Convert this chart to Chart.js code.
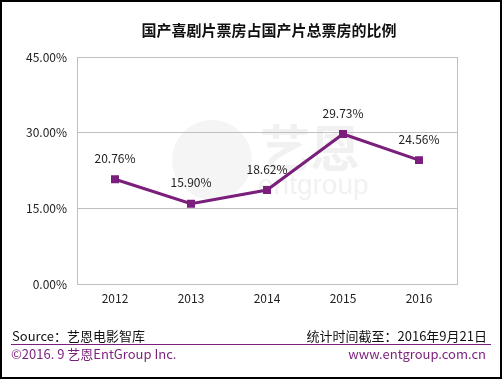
<!DOCTYPE html>
<html><head><meta charset="utf-8">
<script src="https://cdn.jsdelivr.net/npm/chart.js@4"></script>
<style>html,body{margin:0;padding:0;background:#fff}#wrap{width:502px;height:380px;position:relative}</style>
</head><body><div id="wrap"><canvas id="c" width="502" height="380"></canvas></div>
<script>
const categories = ['2012','2013','2014','2015','2016'];
const shareValues = [20.76, 15.90, 18.62, 29.73, 24.56];
const yTicks = [0, 15, 30, 45];
const titleText = '国产喜剧片票房占国产片总票房的比例';
const sourceText = 'Source：艺恩电影智库';
const dateText = '统计时间截至：2016年9月21日';
const copyText = '©2016. 9 艺恩EntGroup Inc.';
const siteText = 'www.entgroup.com.cn';

const FONT = '"Noto Sans CJK SC", "Liberation Sans", sans-serif';
const PURPLE = '#7a1f7c';

const decor = {
  id: 'decor',
  beforeDraw(chart) {
    const ctx = chart.ctx;
    ctx.save();
    ctx.fillStyle = '#fff';
    ctx.fillRect(0, 0, chart.width, chart.height);
    // faint watermark
    ctx.fillStyle = 'rgba(200,200,200,0.18)';
    ctx.beginPath();
    ctx.arc(212, 160, 40, 0, Math.PI * 2);
    ctx.fill();
    ctx.font = 'bold 50px ' + FONT;
    ctx.fillStyle = 'rgba(190,190,190,0.22)';
    ctx.textBaseline = 'middle';
    ctx.fillText('艺恩', 260, 148);
    ctx.font = '28px "Liberation Sans", sans-serif';
    ctx.fillText('entgroup', 258, 186);
    ctx.restore();
  },
  afterDraw(chart) {
    const ctx = chart.ctx, a = chart.chartArea;
    ctx.save();
    ctx.strokeStyle = '#c0c0c0';
    ctx.lineWidth = 1;
    ctx.strokeRect(Math.round(a.left) + 0.5, Math.round(a.top) + 0.5, Math.round(a.right - a.left), Math.round(a.bottom - a.top));
    const meta = chart.getDatasetMeta(0);
    ctx.font = '12px ' + FONT;
    ctx.fillStyle = '#222';
    ctx.textAlign = 'center';
    ctx.textBaseline = 'middle';
    meta.data.forEach((p, i) => {
      ctx.fillText(shareValues[i].toFixed(2) + '%', p.x, p.y - 21);
    });
    ctx.font = 'bold 15px ' + FONT;
    ctx.fillStyle = '#111';
    ctx.fillText(titleText, 269, 30);
    ctx.font = '13px ' + FONT;
    ctx.textAlign = 'left';
    ctx.fillStyle = '#111';
    ctx.fillText(sourceText, 12, 336);
    ctx.textAlign = 'right';
    ctx.fillText(dateText, 487, 336);
    ctx.strokeStyle = PURPLE;
    ctx.beginPath();
    ctx.moveTo(11, 344.5); ctx.lineTo(491, 344.5);
    ctx.stroke();
    ctx.fillStyle = PURPLE;
    ctx.textAlign = 'left';
    ctx.fillText(copyText, 11, 354);
    ctx.textAlign = 'right';
    ctx.fillText(siteText, 486, 354);
    ctx.strokeStyle = '#000';
    ctx.lineWidth = 2;
    ctx.strokeRect(1, 1, chart.width - 2, chart.height - 3);
    ctx.restore();
  }
};

new Chart(document.getElementById('c'), {
  type: 'line',
  data: {
    labels: categories,
    datasets: [{
      data: shareValues,
      borderColor: PURPLE,
      backgroundColor: PURPLE,
      borderWidth: 3,
      pointStyle: 'rect',
      pointRadius: 3.5,
      pointHoverRadius: 3.5,
      tension: 0
    }]
  },
  options: {
    responsive: false,
    animation: false,
    events: [],
    layout: { padding: { left: 10, top: 57, right: 45, bottom: 60 } },
    plugins: { legend: { display: false }, tooltip: { enabled: false }, title: { display: false } },
    scales: {
      x: {
        offset: true,
        grid: { display: false, drawTicks: false },
        border: { display: true, color: '#c0c0c0' },
        ticks: { font: { family: FONT, size: 12 }, color: '#222', padding: 7 },
        afterFit(s) { s.height = 36; }
      },
      y: {
        min: 0, max: 45,
        afterBuildTicks(s) { s.ticks = yTicks.map(v => ({ value: v })); },
        grid: { color: '#c0c0c0', drawTicks: false },
        border: { display: true, color: '#c0c0c0' },
        ticks: { font: { family: FONT, size: 12 }, color: '#222', padding: 10, callback: v => v.toFixed(2) + '%' },
        afterFit(s) { s.width = 67; }
      }
    }
  },
  plugins: [decor]
});
</script></body></html>
